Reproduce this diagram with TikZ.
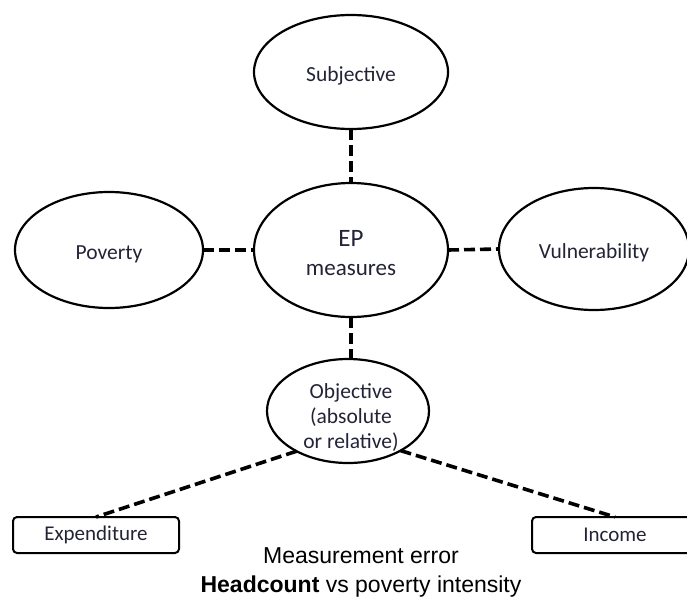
\documentclass[tikz,border=0pt]{standalone}
\usepackage{fontspec}
\setmainfont{Carlito}
\newfontfamily\arialfont{Liberation Sans}
\usetikzlibrary{shapes.geometric}
\definecolor{inktext}{RGB}{35,35,55}

\begin{document}
\begin{tikzpicture}[x=1pt,y=-1pt,
    bubble/.style={ellipse,draw,line width=2.2pt,inner sep=0pt,outer sep=0pt,text=inktext,font=\fontsize{21.5}{25}\selectfont,align=center},
    lowtext/.style={text height=23pt,text depth=5pt},
    tag/.style={rectangle,draw,line width=2pt,rounded corners=4pt,minimum width=166pt,minimum height=36pt,inner sep=0pt,outer sep=0pt,text=inktext,font=\fontsize{21}{25}\selectfont},
    link/.style={line width=3.6pt,dash pattern=on 11pt off 5pt}]
        \useasboundingbox (0,0) rectangle (687,597);
        % 楕円
        \node[bubble,lowtext,minimum width=194pt,minimum height=114pt] (subj) at (351,72) {Subjective};
        \node[bubble,minimum width=194pt,minimum height=134pt] (ep) at (351,250) {};
        \node[text=inktext,align=center,font=\fontsize{23}{29}\selectfont] (eptxt) at (351,253) {{\fontsize{25}{29}\selectfont EP}\\measures};
        \node[bubble,lowtext,minimum width=188pt,minimum height=116pt] (pov) at (109,250) {Poverty};
        \node[bubble,lowtext,minimum width=190pt,minimum height=122pt] (vul) at (594,249) {Vulnerability};
        \node[bubble,minimum width=162pt,minimum height=104pt] (obj) at (348,411) {};
        \node[text=inktext,align=center,font=\fontsize{21.5}{25}\selectfont] (objtxt) at (351,418) {Objective\\(absolute\\or relative)};
        % 箱
        \node[tag] (expd) at (96,535) {Expenditure};
        \node[tag] (inc) at (615,535) {Income};
        % 破線
        \draw[link] (subj.south) -- (ep.north);
        \draw[link] (pov.east) -- (ep.west);
        \draw[link] (ep.east) -- (vul.west);
        \draw[link] (ep.south) -- (ep.south |- obj.north);
        \draw[link] (obj.218) -- (expd.north);
        \draw[link] (obj.323) -- (inc.north);
        % 注記
        \node[font=\arialfont\fontsize{23}{29}\selectfont,align=center,anchor=base] (note) at (361,592) {Measurement error\\\textbf{Headcount} vs poverty intensity};
    \end{tikzpicture}
\end{document}
